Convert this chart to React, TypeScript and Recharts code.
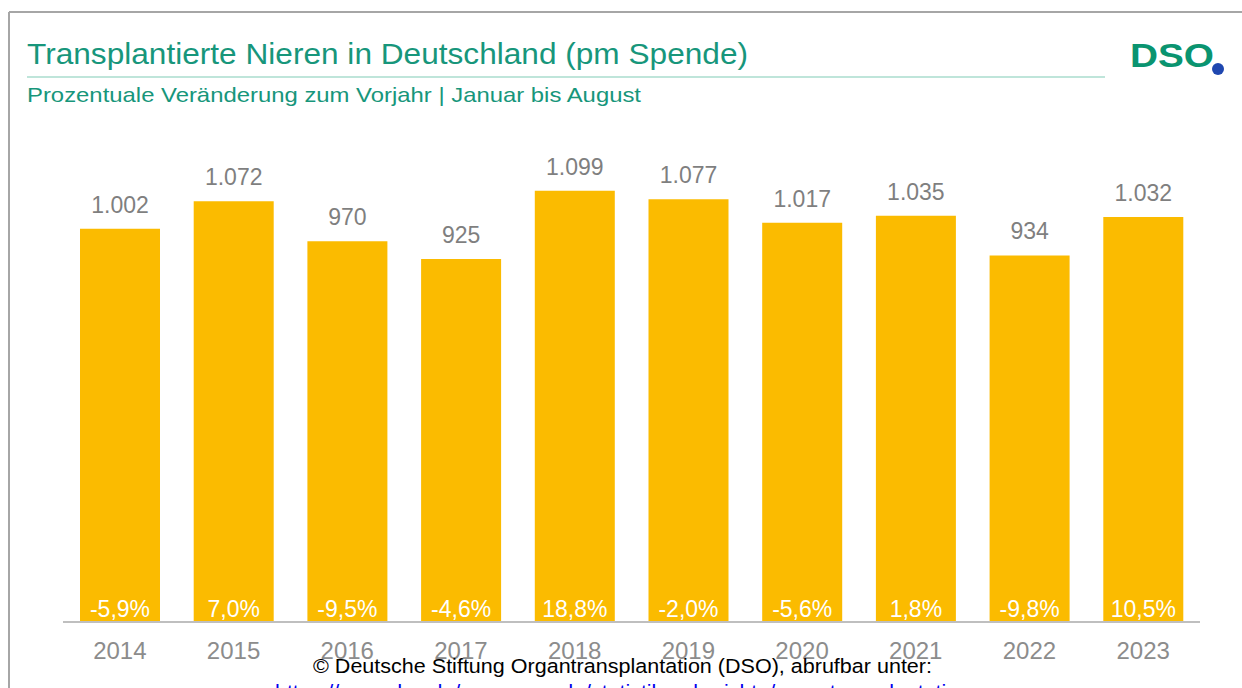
import React from 'react';
import { BarChart, Bar, XAxis, YAxis, LabelList } from 'recharts';

const years = ['2014', '2015', '2016', '2017', '2018', '2019', '2020', '2021', '2022', '2023'];
const kidneys = [1002, 1072, 970, 925, 1099, 1077, 1017, 1035, 934, 1032];
const changePct = [-5.9, 7.0, -9.5, -4.6, 18.8, -2.0, -5.6, 1.8, -9.8, 10.5];

const TITLE = 'Transplantierte Nieren in Deutschland (pm Spende)';
const SUBTITLE = 'Prozentuale Veränderung zum Vorjahr | Januar bis August';
const SOURCE = '© Deutsche Stiftung Organtransplantation (DSO), abrufbar unter:';
const LINK = 'https://www.dso.de/organspende/statistiken-berichte/organtransplantation';

const FONT = '"Liberation Sans", Arial, sans-serif';
const TEAL = '#17967b';

const data = years.map((year, i) => ({ year, value: kidneys[i], pct: changePct[i] }));

// 1.002 style thousands separator
const fmtThousands = (v: number) =>
  v >= 1000 ? `${Math.floor(v / 1000)}.${String(v % 1000).padStart(3, '0')}` : String(v);
const fmtPct = (v: number) => `${v.toFixed(1).replace('.', ',')}%`;

const App: React.FC = () => {
  return (
    <div style={{ position: 'fixed', left: 0, top: 0, width: 1242, height: 688, overflow: 'hidden', background: '#fff' }}>
      <BarChart
        width={1242}
        height={688}
        data={data}
        margin={{ top: 151, right: 42, left: 63, bottom: 0 }}
        style={{ fontFamily: FONT }}
      >
        <XAxis
          dataKey="year"
          height={66}
          tickLine={false}
          axisLine={{ stroke: '#bfbfbf', strokeWidth: 2 }}
          tick={{ fill: '#8c8c8c', fontSize: 24, dy: 12, fontFamily: FONT }}
          interval={0}
        />
        <YAxis hide domain={[0, 1200]} />
        <Bar dataKey="value" fill="#fbbb00" barSize={80} isAnimationActive={false}>
          <LabelList
            dataKey="value"
            position="top"
            offset={16}
            formatter={(v: any) => fmtThousands(Number(v))}
            style={{ fill: '#7f7f7f', fontSize: 23, fontFamily: FONT }}
          />
          <LabelList
            dataKey="pct"
            position="insideBottom"
            offset={5}
            formatter={(v: any) => fmtPct(Number(v))}
            style={{ fill: '#ffffff', fontSize: 23, fontFamily: FONT }}
          />
        </Bar>
      </BarChart>

      <svg
        width={1242}
        height={688}
        style={{ position: 'absolute', left: 0, top: 0, pointerEvents: 'none', fontFamily: FONT }}
      >
        {/* frame */}
        <line x1={9} y1={12} x2={1242} y2={12} stroke="#a6a6a6" strokeWidth={2} />
        <line x1={9} y1={12} x2={9} y2={688} stroke="#a6a6a6" strokeWidth={2} />

        <text x={27} y={64} fontSize={29.5} fill={TEAL} textLength={721} lengthAdjust="spacingAndGlyphs">
          {TITLE}
        </text>
        <line x1={27} y1={77} x2={1105} y2={77} stroke="#bfe5da" strokeWidth={2} />
        <text x={27} y={102} fontSize={21} fill={TEAL} textLength={614} lengthAdjust="spacingAndGlyphs">
          {SUBTITLE}
        </text>

        {/* logo */}
        <text
          x={1130}
          y={67}
          fontSize={33}
          fontWeight={900}
          fill="#0a9470"
          textLength={84}
          lengthAdjust="spacingAndGlyphs"
        >
          DSO
        </text>
        <circle cx={1218} cy={69} r={6} fill="#1f47b0" />

        <text x={313} y={673} fontSize={20.5} fill="#000" textLength={619} lengthAdjust="spacingAndGlyphs">
          {SOURCE}
        </text>
        <text
          x={275}
          y={699}
          fontSize={20.5}
          fill="#0000ee"
          textDecoration="underline"
          textLength={695}
          lengthAdjust="spacingAndGlyphs"
        >
          {LINK}
        </text>
      </svg>
    </div>
  );
};

export default App;
